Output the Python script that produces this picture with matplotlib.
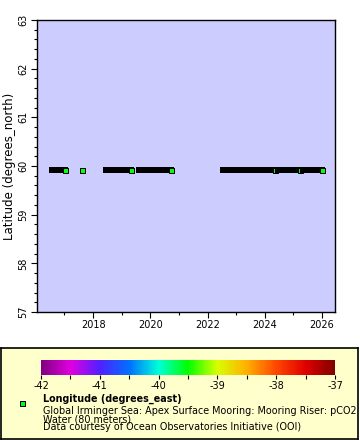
import matplotlib
matplotlib.use("Agg")
import matplotlib.pyplot as plt
from matplotlib.colors import LinearSegmentedColormap, Normalize
import numpy as np

plt.rcParams["font.family"] = "DejaVu Sans"
plt.rcParams["axes.unicode_minus"] = False

# deployments of the pCO2 water sensor (decimal years)
start_year = [2016.568, 2017.616, 2018.454, 2019.607, 2022.541, 2024.445, 2025.319]
end_year = [2017.022, 2017.616, 2019.328, 2020.725, 2024.369, 2025.242, 2026.000]
lat = [59.92, 59.92, 59.92, 59.92, 59.92, 59.92, 59.92]
lon = [-39.55, -39.55, -39.55, -39.55, -39.55, -39.55, -39.55]

x_ticks = [2018, 2020, 2022, 2024, 2026]
y_ticks = [57, 58, 59, 60, 61, 62, 63]
cbar_ticks = [-42, -41, -40, -39, -38, -37]

legend_lines = ["Global Irminger Sea: Apex Surface Mooring: Mooring Riser: pCO2",
                "Water (80 meters)",
                "Data courtesy of Ocean Observatories Initiative (OOI)"]

rainbow = LinearSegmentedColormap.from_list("rainbow2", [
    "#800080", "#e000e0", "#5020ff", "#0070ff", "#00ffd8", "#00ff00",
    "#d8ff00", "#ffb000", "#ff4800", "#e00000", "#800000"])
norm = Normalize(-42, -37)

W, H = 360, 440
fig = plt.figure(figsize=(W / 100, H / 100), dpi=100)

def box(x0, y0, x1, y1):
    return [x0 / W, 1 - y1 / H, (x1 - x0) / W, (y1 - y0) / H]

# legend background
lg = fig.add_axes(box(1, 348, 358, 439))
lg.set_facecolor("#ffffcc")
lg.set_xticks([])
lg.set_yticks([])
for s in lg.spines.values():
    s.set_linewidth(1.2)

ax = fig.add_axes(box(37, 20, 335, 312))
ax.set_facecolor("#ccccff")
for s0, s1, la, lo in zip(start_year, end_year, lat, lon):
    ax.plot([s0, s1], [la, la], color="black", lw=4.32, solid_capstyle="projecting", zorder=2)
    ax.plot([s1], [la], marker="s", ms=3.6, mew=0.72, mec="black",
            mfc=rainbow(norm(lo)), zorder=2)

ax.set_xlim(2016.04, 2026.45)
ax.set_ylim(57, 63)
ax.set_xticks(x_ticks)
ax.set_xticks(np.arange(2017, 2027), minor=True)
ax.set_yticks(y_ticks)
ax.set_yticks(np.arange(57, 63.01, 0.2), minor=True)
ax.tick_params(which="major", length=4, width=0.8, labelsize=7, pad=2)
ax.tick_params(which="minor", length=2, width=0.8)
ax.tick_params(axis="y", labelrotation=90)
for t in ax.get_yticklabels():
    t.set_va("center")
ax.set_ylabel("Latitude (degrees_north)", fontsize=8.5, labelpad=2)
for s in ax.spines.values():
    s.set_linewidth(1)

# colorbar
cax = fig.add_axes(box(41, 360, 335, 375))
cb = fig.colorbar(plt.cm.ScalarMappable(norm=norm, cmap=rainbow), cax=cax,
                  orientation="horizontal")
cb.set_ticks(cbar_ticks)
cb.ax.set_xticks(np.arange(-42, -36.9, 0.5), minor=True)
cb.ax.tick_params(which="major", length=3, width=0.8, labelsize=7, pad=1)
cb.ax.tick_params(which="minor", length=3, width=0.8)
cb.outline.set_linewidth(0)

# legend entry
fig.add_artist(plt.Line2D([22 / W], [1 - 403 / H], marker="s", ms=3.6, mew=0.72,
                          mec="black", mfc=rainbow(norm(lon[0]))))
fig.text(43 / W, 1 - 402 / H, "Longitude (degrees_east)", fontsize=6.9,
         fontweight="bold", va="baseline")
fig.text(43 / W, 1 - 406 / H, "\n".join(legend_lines), fontsize=6.9,
         va="top", linespacing=0.75)

fig.savefig("out.png", dpi=100)
